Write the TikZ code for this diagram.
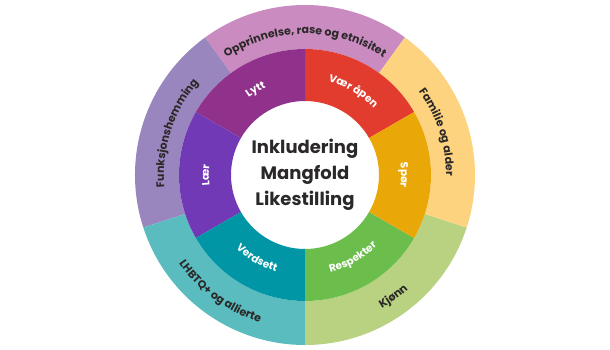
\documentclass[tikz,border=0pt]{standalone}
\usepackage{fontspec}
\setmainfont{Poppins}
\usepackage{tikz}
\usetikzlibrary{decorations.text}
\definecolor{OuterPink}{RGB}{201,139,192}
\definecolor{OuterLilac}{RGB}{154,134,190}
\definecolor{OuterTeal}{RGB}{90,188,190}
\definecolor{OuterGreen}{RGB}{184,210,130}
\definecolor{OuterOrange}{RGB}{253,211,128}
\definecolor{InnerPurple}{RGB}{144,49,139}
\definecolor{InnerRed}{RGB}{226,60,47}
\definecolor{InnerOrange}{RGB}{234,168,8}
\definecolor{InnerGreen}{RGB}{108,190,76}
\definecolor{InnerTeal}{RGB}{0,150,165}
\definecolor{InnerViolet}{RGB}{114,57,182}
\definecolor{DarkText}{RGB}{43,40,40}
\newcommand{\outerfont}{\bfseries\fontsize{11}{13}\selectfont}
\newcommand{\innerfont}{\bfseries\fontsize{10.5}{12}\selectfont}

\begin{document}
\begin{tikzpicture}[
  x=1pt, y=1pt,
  ringtext/.style={decorate, decoration={text along path, text align=center,
                   text color=DarkText}},
  spoketext/.style={decorate, decoration={text along path, text align=center,
                    text color=white}},
  hubtext/.style={align=center, text=DarkText,
                  font=\bfseries\fontsize{18}{26}\selectfont},
]
\useasboundingbox (-305,-175) rectangle (305,175);

% outer ring
\fill[OuterPink]   (54:126)  -- (54:170)  arc[start angle=54,  end angle=126, radius=170] -- (126:126) arc[start angle=126, end angle=54,  radius=126] -- cycle;
\fill[OuterLilac]  (126:126) -- (126:170) arc[start angle=126, end angle=198, radius=170] -- (198:126) arc[start angle=198, end angle=126, radius=126] -- cycle;
\fill[OuterTeal]   (198:126) -- (198:170) arc[start angle=198, end angle=270, radius=170] -- (270:126) arc[start angle=270, end angle=198, radius=126] -- cycle;
\fill[OuterGreen]  (270:126) -- (270:170) arc[start angle=270, end angle=342, radius=170] -- (342:126) arc[start angle=342, end angle=270, radius=126] -- cycle;
\fill[OuterOrange] (-18:126) -- (-18:170) arc[start angle=-18, end angle=54,  radius=170] -- (54:126)  arc[start angle=54,  end angle=-18, radius=126] -- cycle;

% inner ring
\fill[InnerRed]    (30:74)  -- (30:126)  arc[start angle=30,  end angle=90,  radius=126] -- (90:74)  arc[start angle=90,  end angle=30,  radius=74] -- cycle;
\fill[InnerPurple] (90:74)  -- (90:126)  arc[start angle=90,  end angle=150, radius=126] -- (150:74) arc[start angle=150, end angle=90,  radius=74] -- cycle;
\fill[InnerViolet] (150:74) -- (150:126) arc[start angle=150, end angle=210, radius=126] -- (210:74) arc[start angle=210, end angle=150, radius=74] -- cycle;
\fill[InnerTeal]   (210:74) -- (210:126) arc[start angle=210, end angle=270, radius=126] -- (270:74) arc[start angle=270, end angle=210, radius=74] -- cycle;
\fill[InnerGreen]  (270:74) -- (270:126) arc[start angle=270, end angle=330, radius=126] -- (330:74) arc[start angle=330, end angle=270, radius=74] -- cycle;
\fill[InnerOrange] (-30:74) -- (-30:126) arc[start angle=-30, end angle=30,  radius=126] -- (30:74)  arc[start angle=30,  end angle=-30, radius=74] -- cycle;

\node[hubtext] (hub) at (0,0) {Inkludering\\Mangfold\\Likestilling};

% outer labels
\path[ringtext, decoration={text={|\outerfont|Opprinnelse, rase og etnisitet}}]
  (150:141) arc[start angle=150, end angle=30, radius=141];
\path[ringtext, decoration={text={|\outerfont|Funksjonshemming}}]
  (222:141) arc[start angle=222, end angle=102, radius=141];
\path[ringtext, decoration={text={|\outerfont|Familie og alder}}]
  (78:141) arc[start angle=78, end angle=-42, radius=141];
\path[ringtext, decoration={text={|\outerfont|LHBTQ+ og allierte}}]
  (174:154) arc[start angle=174, end angle=294, radius=154];
\path[ringtext, decoration={text={|\outerfont|Kjønn}}]
  (246:154) arc[start angle=246, end angle=366, radius=154];

% inner labels
\path[spoketext, decoration={text={|\innerfont|Lytt}}]
  (170:96) arc[start angle=170, end angle=70, radius=96];
\path[spoketext, decoration={text={|\innerfont|Vær åpen}}]
  (110:96) arc[start angle=110, end angle=10, radius=96];
\path[spoketext, decoration={text={|\innerfont|Spør}}]
  (50:96) arc[start angle=50, end angle=-50, radius=96];
\path[spoketext, decoration={text={|\innerfont|Lær}}]
  (230:96) arc[start angle=230, end angle=130, radius=96];
\path[spoketext, decoration={text={|\innerfont|Verdsett}}]
  (190:101) arc[start angle=190, end angle=290, radius=101];
\path[spoketext, decoration={text={|\innerfont|Respekter}}]
  (250:101) arc[start angle=250, end angle=350, radius=101];

\end{tikzpicture}
\end{document}
